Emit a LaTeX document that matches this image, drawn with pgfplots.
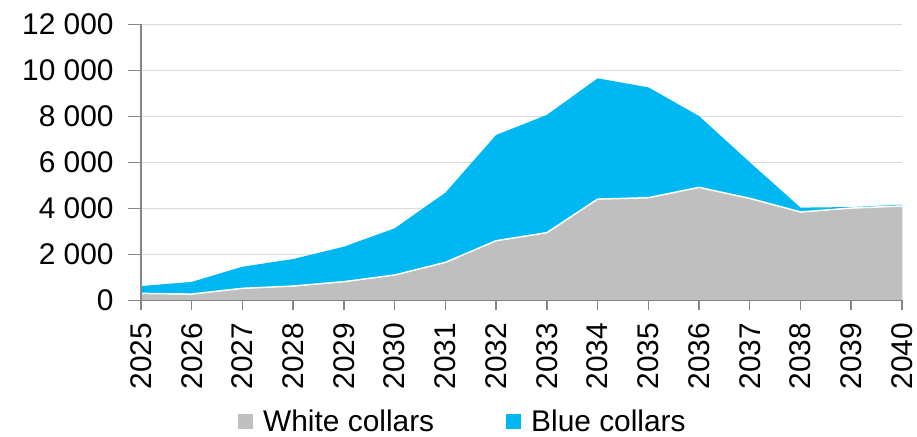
\documentclass[border=0pt]{standalone}
\usepackage{fontspec}
\setmainfont{Liberation Sans}
\usepackage{pgfplots}
\usepackage{pgfplotstable}
\pgfplotsset{compat=1.18}

\definecolor{bluec}{RGB}{0,184,241}
\definecolor{grayc}{RGB}{191,191,191}
\definecolor{axisc}{RGB}{134,134,134}
\definecolor{gridc}{RGB}{217,217,217}

% white = white collars, blue = blue collars (stacked on top)
\pgfplotstableread{
year white blue
2025 300  320
2026 270  530
2027 520  940
2028 620  1175
2029 810  1520
2030 1100 2030
2031 1650 3030
2032 2590 4600
2033 2940 5120
2034 4400 5250
2035 4460 4800
2036 4910 3100
2037 4430 1570
2038 3840 190
2039 4010 45
2040 4100 57
}\data
\pgfplotstablecreatecol[expr={\thisrow{white}+\thisrow{blue}}]{total}\data

\begin{document}
\begin{tikzpicture}
\begin{axis}[
    name=main,
    at={(0,0)}, anchor=south west,
    scale only axis,
    width=761bp, height=276bp,
    xmin=2025, xmax=2040,
    ymin=0, ymax=12000,
    xtick={2025,...,2040},
    ytick={0,2000,...,12000},
    scaled y ticks=false,
    axis x line*=bottom,
    axis y line*=left,
    axis line style={draw=axisc, line width=1.5bp},
    xtick pos=bottom, ytick pos=left,
    tick align=outside,
    xtick style={draw=axisc, line width=1.5bp, /pgfplots/major tick length=10bp},
    ytick style={draw=axisc, line width=1.5bp, /pgfplots/major tick length=13bp},
    set layers, axis on top,
    ymajorgrids,
    major grid style={draw=gridc, line width=1.3bp, /pgfplots/on layer=axis background},
    font=\fontsize{30}{36}\selectfont,
    /pgf/number format/assume math mode=true,
    yticklabel style={/pgf/number format/fixed, /pgf/number format/1000 sep={\ }, inner sep=0pt, xshift=-23bp},
    xticklabel style={/pgf/number format/1000 sep={}, rotate=90, anchor=east, inner sep=0pt, xshift=-18bp},
    reverse legend,
    legend columns=2,
    legend style={
        at={(0.423,-0.438)}, anchor=center, draw=none, fill=none,
        inner sep=0pt,
        font=\fontsize{30}{34}\selectfont,
        /tikz/every odd column/.append style={column sep=8bp},
        /tikz/every even column/.append style={column sep=70bp},
    },
    legend image code/.code={\fill[#1] (0bp,-7.5bp) rectangle (15bp,7.5bp);},
]
\addplot[fill=bluec, draw=none] table[x=year, y=total] {\data} \closedcycle;
\addlegendentry{Blue collars}
\addplot[fill=grayc, draw=none] table[x=year, y=white] {\data} \closedcycle;
\addlegendentry{White collars}
\addplot[white, line width=1.5bp, forget plot] table[x=year, y=white] {\data};
\end{axis}
\pgfresetboundingbox
\useasboundingbox (-141bp,-136.7bp) rectangle (776bp,300.3bp);
\end{tikzpicture}
\end{document}
